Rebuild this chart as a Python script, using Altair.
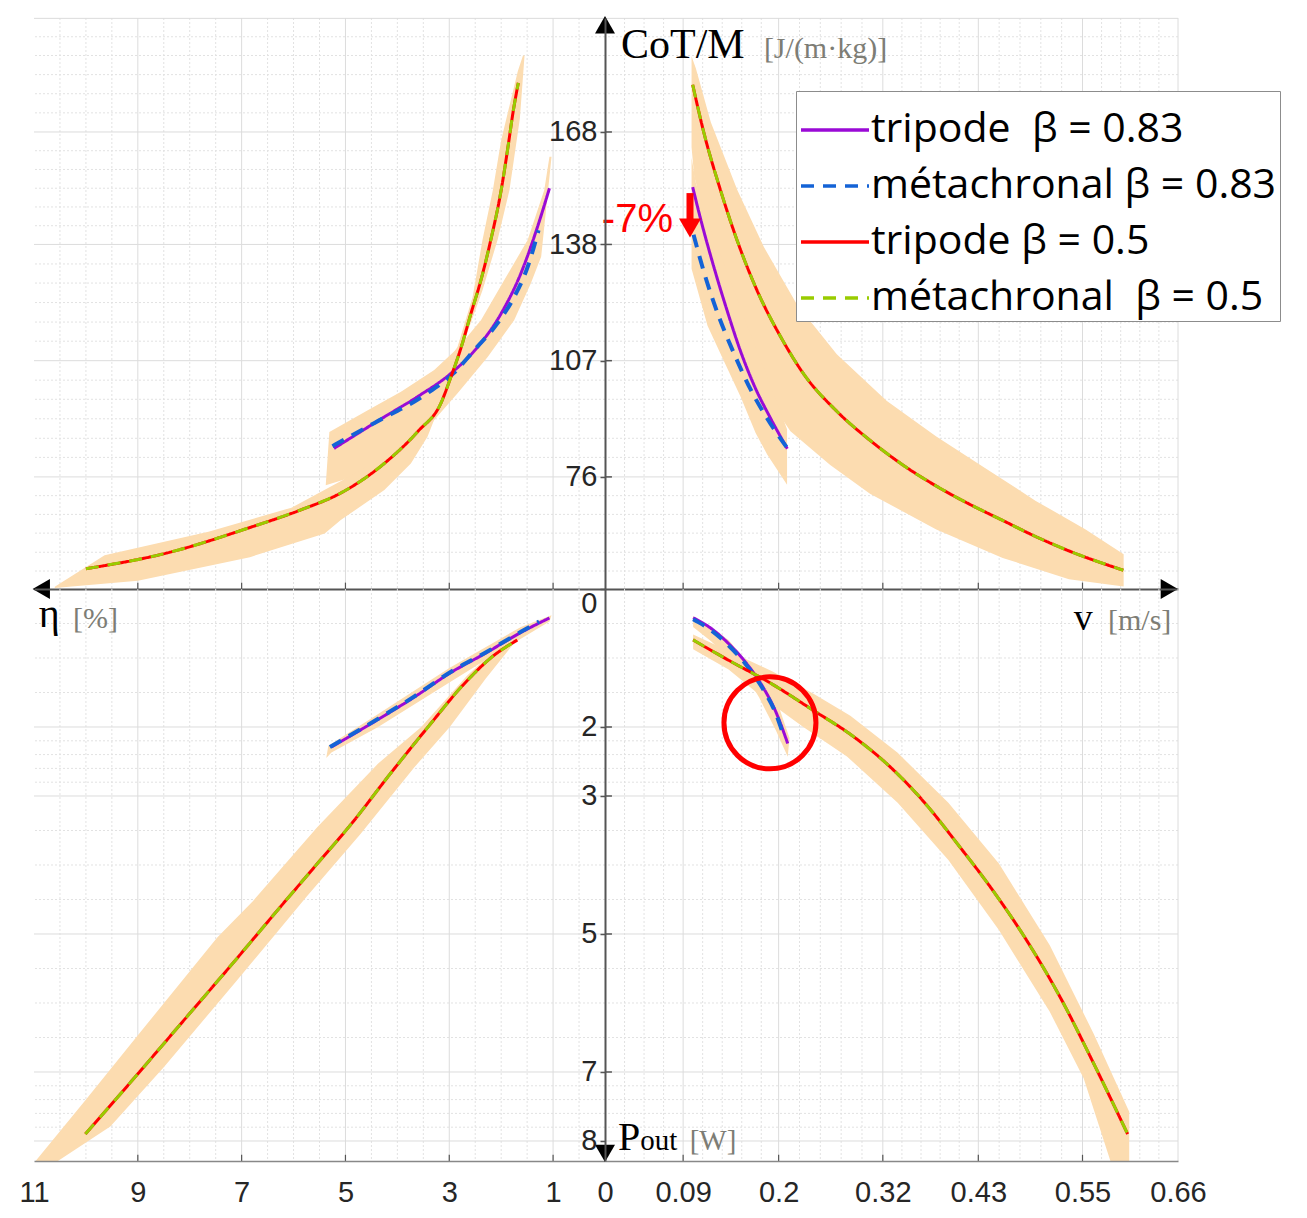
import altair as alt
import pandas as pd

# ---------------- series, colours ----------------
SERIES = ["tripode\u00a0\u00a0β = 0.83", "métachronal β = 0.83",
          "tripode β = 0.5", "métachronal\u00a0\u00a0β = 0.5"]
COLORS = ["#9a0ad6", "#1463d6", "#ff0000", "#99cc00"]
DASHES = [[1, 0], [13, 9], [1, 0], [13, 9]]
BAND = "#fcdcb0"

# ---------------- top-left: eta [%] vs CoT/M ----------------
TL_ETA_T083 = [5.22, 4.25, 3.61, 2.97, 2.45, 2.00, 1.62, 1.30, 1.07]
TL_COT_T083 = [83.6, 92.0, 97.4, 103.6, 110.7, 119.6, 130.3, 142.7, 153.0]
TL_ETA_M083 = [5.25, 4.44, 3.48, 2.92, 2.52, 2.07, 1.75, 1.49, 1.28]
TL_COT_M083 = [84.2, 90.4, 97.8, 103.6, 109.8, 117.0, 124.0, 132.0, 141.8]
TL_ETA_05 = [10.0, 8.44, 6.84, 5.86, 5.09, 4.26, 3.60, 3.16, 2.97, 2.77, 2.58, 2.39, 2.20, 2.00, 1.85, 1.78, 1.67]
TL_COT_05 = [51.5, 55.7, 62.5, 67.2, 71.7, 79.5, 88.2, 95.7, 102.6, 110.6, 119.7, 128.5, 139.2, 152.5, 165.8, 172.5, 181.1]
TL_BAND05_ETA = [10.60, 9.64, 7.64, 6.04, 5.05, 3.60, 2.84, 2.55, 2.36, 2.16, 2.00, 1.68, 1.58, 1.55, 1.64, 1.84,
                 2.07, 2.36, 2.90, 3.42, 3.74, 4.25, 5.09, 5.40, 6.84, 9.00, 10.60]
TL_BAND05_COT = [46.7, 55.1, 61.4, 67.8, 75.2, 95.0, 110.7, 124.0, 139.2, 152.5, 165.8, 184.2, 188.4, 188.4, 171.6, 152.5,
                 139.2, 125.8, 105.0, 86.7, 79.6, 72.5, 64.5, 60.9, 54.6, 48.3, 46.4]
TL_BAND083_ETA = [5.31, 4.57, 3.93, 3.29, 2.84, 2.39, 1.94, 1.49, 1.17, 1.07, 1.03, 1.17, 1.23, 1.43, 1.75, 2.26,
                  2.84, 3.29, 3.55, 5.05, 5.38]
TL_BAND083_COT = [88.0, 93.8, 98.7, 104.5, 110.3, 117.8, 128.5, 139.2, 152.5, 161.4, 161.4, 142.7, 134.7, 127.6, 117.8, 108.0,
                  98.3, 91.2, 86.7, 75.2, 73.8]

# ---------------- top-right: v [m/s] vs CoT/M ----------------
TR_V_T083 = [0.101, 0.110, 0.126, 0.141, 0.156, 0.172, 0.191, 0.210]
TR_COT_T083 = [153.3, 144.9, 131.5, 120.1, 109.6, 100.3, 91.5, 83.5]
TR_V_M083 = [0.102, 0.114, 0.129, 0.149, 0.168, 0.187, 0.209]
TR_COT_M083 = [140.6, 130.6, 120.1, 108.7, 99.2, 91.5, 84.0]
TR_V_05 = [0.101, 0.114, 0.133, 0.152, 0.175, 0.202, 0.229, 0.267, 0.305, 0.343, 0.382, 0.420, 0.458, 0.496, 0.534, 0.597]
TR_COT_05 = [180.6, 167.7, 152.5, 139.2, 125.8, 113.5, 103.4, 93.5, 85.8, 79.2, 73.5, 68.7, 64.4, 60.1, 56.3, 51.1]
TR_BAND05_V = [0.0997, 0.1047, 0.1219, 0.1524, 0.1830, 0.2211, 0.2670, 0.3243, 0.3816, 0.4390, 0.4962, 0.5536, 0.5974,
               0.5974, 0.5344, 0.4581, 0.3816, 0.3052, 0.2594, 0.2136, 0.1868, 0.1601, 0.1372, 0.1181, 0.1027, 0.0997]
TR_BAND05_COT = [188.2, 184.9, 170.6, 152.5, 137.3, 122.0, 108.7, 96.3, 86.8, 78.2, 69.6, 62.0, 55.4,
                 46.8, 48.7, 54.4, 62.0, 71.5, 79.2, 88.2, 97.3, 110.6, 125.8, 142.0, 156.3, 163.9]
TR_BAND083_V = [0.0997, 0.1047, 0.1219, 0.1448, 0.1677, 0.1906, 0.2097, 0.2097, 0.1868, 0.1735, 0.1563, 0.1372, 0.1181, 0.0997]
TR_BAND083_COT = [161.1, 154.4, 142.0, 128.0, 114.0, 100.5, 88.7, 73.9, 82.0, 87.7, 97.3, 106.8, 116.3, 131.5]

# ---------------- bottom-left: eta [%] vs Pout [W] ----------------
BL_ETA_T083 = [5.27, 4.37, 3.68, 2.99, 2.30, 1.62, 1.07]
BL_POUT_T083 = [2.29, 1.89, 1.57, 1.22, 0.93, 0.63, 0.42]
BL_ETA_M083 = [5.30, 4.37, 3.68, 2.99, 2.30, 1.62, 1.27]
BL_POUT_M083 = [2.29, 1.88, 1.56, 1.21, 0.92, 0.62, 0.47]
BL_ETA_05 = [10.01, 8.98, 8.09, 7.12, 6.37, 5.61, 4.85, 4.16, 3.41, 2.72, 2.17, 1.69]
BL_POUT_05 = [7.90, 7.01, 6.23, 5.38, 4.71, 4.04, 3.37, 2.70, 2.00, 1.38, 0.98, 0.74]
BL_BAND05_ETA = [10.98, 10.01, 8.98, 7.47, 6.78, 5.54, 4.37, 3.54, 2.65, 1.69, 1.62, 2.30, 2.99, 3.68, 4.71, 5.75,
                 7.12, 8.50, 9.53, 10.56]
BL_BAND05_POUT = [8.30, 7.41, 6.45, 5.05, 4.52, 3.45, 2.53, 2.00, 1.25, 0.60, 0.66, 1.30, 2.00, 2.59, 3.55, 4.46,
                  5.70, 6.93, 7.79, 8.30]
BL_BAND083_ETA = [5.37, 5.33, 4.37, 2.99, 1.62, 1.03, 1.07, 2.30, 2.99, 4.37, 5.27]
BL_BAND083_POUT = [2.45, 2.27, 1.81, 1.14, 0.55, 0.38, 0.47, 1.03, 1.35, 2.00, 2.37]

# ---------------- bottom-right: v [m/s] vs Pout [W] ----------------
BR_V_T083 = [0.1015, 0.1229, 0.1424, 0.1618, 0.1813, 0.1969, 0.2105]
BR_POUT_T083 = [0.417, 0.577, 0.792, 1.06, 1.408, 1.784, 2.24]
BR_V_M083 = [0.1015, 0.1229, 0.1424, 0.1618, 0.1813, 0.1969, 0.2066]
BR_POUT_M083 = [0.44, 0.604, 0.819, 1.087, 1.435, 1.81, 2.16]
BR_V_05 = [0.1015, 0.1424, 0.193, 0.2397, 0.2826, 0.3293, 0.3682, 0.4072, 0.4461, 0.4851, 0.524, 0.563, 0.602]
BR_POUT_05 = [0.738, 1.033, 1.382, 1.757, 2.106, 2.588, 3.098, 3.714, 4.358, 5.081, 5.91, 6.88, 7.90]
BR_BAND05_V = [0.1015, 0.1424, 0.193, 0.2397, 0.2826, 0.3371, 0.3955, 0.4539, 0.5123, 0.563, 0.6038, 0.6038,
               0.5824, 0.5513, 0.5123, 0.4539, 0.3955, 0.3371, 0.2787, 0.228, 0.1813, 0.1424, 0.1015]
BR_BAND05_POUT = [0.658, 0.899, 1.194, 1.516, 1.838, 2.374, 3.098, 3.982, 5.162, 6.449, 7.575, 8.30,
                  8.30, 7.092, 6.127, 4.947, 3.929, 3.098, 2.427, 1.998, 1.57, 1.167, 0.872]
BR_BAND083_V = [0.1015, 0.1424, 0.1813, 0.2008, 0.2125, 0.2105, 0.1969, 0.1774, 0.1618, 0.1229, 0.1015]
BR_BAND083_POUT = [0.39, 0.738, 1.328, 1.73, 2.16, 2.43, 2.05, 1.57, 1.248, 0.765, 0.55]

# ---------------- ticks and grid ----------------
ETA_TICKS = [11, 9, 7, 5, 3, 1]
V_TICKS = [0, 0.09, 0.2, 0.32, 0.43, 0.55, 0.66]
COT_TICKS = [76, 107, 138, 168]
POUT_TICKS = [0, 2, 3, 5, 7, 8]
ETA_GRID_MAJOR = [9, 7, 5, 3, 1]
ETA_GRID_MINOR = [10.5, 10, 9.5, 8.5, 8, 7.5, 6.5, 6, 5.5, 4.5, 4, 3.5, 2.5, 2, 1.5, 0.5]
V_GRID_MAJOR = [0.09, 0.2, 0.32, 0.43, 0.55, 0.66]
V_GRID_MINOR = [0.0225, 0.045, 0.0675, 0.1125, 0.135, 0.1575, 0.18, 0.224, 0.248, 0.272, 0.296, 0.342, 0.364,
                0.386, 0.408, 0.454, 0.478, 0.502, 0.526, 0.572, 0.594, 0.616, 0.638]
COT_GRID_MAJOR = [76, 107, 138, 168, 198.3]
COT_GRID_MINOR = [50.9, 55.9, 61.0, 66.0, 71.0, 81.2, 86.3, 91.5, 96.7, 101.8, 112.2, 117.3, 122.5, 127.7, 132.8,
                  143.0, 148.0, 153.0, 158.0, 163.0, 173.1, 178.2, 183.3, 188.4, 193.4]
POUT_GRID_MAJOR = [2, 3, 5, 7, 8]
POUT_GRID_MINOR = [0.5, 1, 1.5, 2.2, 2.4, 2.6, 2.8, 3.5, 4, 4.5, 5.5, 6, 6.5, 7.2, 7.4, 7.6, 7.8]

ETA_DOMAIN = [0, 11]
V_DOMAIN = [0, 0.66]
COT_DOMAIN = [46.1, 198.4]
POUT_DOMAIN = [0, 8.29]

W_L, W_R, H_T, H_B = 571, 573, 571, 572
SANS = "Liberation Sans"
SERIF = "Liberation Serif"
AXC = "#555555"
LABEL_SIZE = 29

LEG = alt.Legend(title=None, orient="none", legendX=762, legendY=73, direction="vertical",
                 symbolType="stroke", symbolSize=4624, symbolStrokeWidth=3.5,
                 labelFont="Open Sans", labelFontSize=41, labelColor="black", labelLimit=800,
                 rowPadding=-1, labelOffset=0, padding=3, strokeColor="#8c8c8c", fillColor="white")
COLOR = alt.Color("series:N", scale=alt.Scale(domain=SERIES, range=COLORS), legend=LEG)
DASH = alt.StrokeDash("series:N", scale=alt.Scale(domain=SERIES, range=DASHES), legend=LEG)


def xy(xs, ys):
    d = pd.DataFrame({"x": xs, "y": ys})
    d["i"] = range(len(d))
    return d


def enc_x(domain, reverse, axis):
    return alt.X("x:Q", scale=alt.Scale(domain=domain, reverse=reverse, nice=False, zero=False), axis=axis, title=None)


def enc_y(domain, reverse, axis):
    return alt.Y("y:Q", scale=alt.Scale(domain=domain, reverse=reverse, nice=False, zero=False), axis=axis, title=None)


def line_layer(xs, ys, k, X, Y, width):
    d = xy(xs, ys)
    d["series"] = SERIES[k]
    return alt.Chart(d).mark_line(strokeWidth=width, clip=True, interpolate="monotone").encode(
        x=X, y=Y, order=alt.Order("i:Q"), color=COLOR, strokeDash=DASH)


def band_layer(xs, ys, X, Y):
    return alt.Chart(xy(xs, ys)).mark_line(filled=True, color=BAND, opacity=1, strokeWidth=0, clip=True).encode(
        x=X, y=Y, order=alt.Order("i:Q"))


def grid_layers(xmaj, xmin, ymaj, ymin, X, Y):
    out = []
    out.append(alt.Chart(pd.DataFrame({"x": xmin})).mark_rule(color="#e2e2e2", strokeWidth=1, strokeDash=[2, 2]).encode(x=X))
    out.append(alt.Chart(pd.DataFrame({"y": ymin})).mark_rule(color="#e2e2e2", strokeWidth=1, strokeDash=[2, 2]).encode(y=Y))
    out.append(alt.Chart(pd.DataFrame({"x": xmaj})).mark_rule(color="#dcdcdc", strokeWidth=1).encode(x=X))
    out.append(alt.Chart(pd.DataFrame({"y": ymaj})).mark_rule(color="#dcdcdc", strokeWidth=1).encode(y=Y))
    return out


def xaxis_plain():
    return alt.Axis(labels=False, ticks=False, grid=False, domainColor=AXC, domainWidth=2, zindex=1)


def xaxis_labels(values, fmt):
    return alt.Axis(values=values, format=fmt, ticks=False, grid=False, labelFlush=False,
                    labelFont=SANS, labelFontSize=LABEL_SIZE, labelColor="#262626", labelPadding=17,
                    domainColor="#888888", domainWidth=1.5, zindex=1)


def yaxis_labels(values, flush):
    return alt.Axis(values=values, format="d", orient="left", grid=False, ticks=True, tickSize=5,
                    tickColor=AXC, tickWidth=1.5, labelFont=SANS, labelFontSize=LABEL_SIZE, labelColor="#262626",
                    labelPadding=3, labelFlush=flush, domainColor=AXC, domainWidth=2, zindex=1)


def point(xs, ys, shape, size, color, filled=True, sw=0):
    d = pd.DataFrame({"x": xs, "y": ys})
    if filled:
        return alt.Chart(d).mark_point(shape=shape, size=size, filled=True, color=color, opacity=1)
    return alt.Chart(d).mark_point(shape=shape, size=size, filled=False, color=color, strokeWidth=sw, opacity=1)


def text(xs, ys, txt, size, font, color, align="left"):
    d = pd.DataFrame({"x": xs, "y": ys, "t": txt})
    return alt.Chart(d).mark_text(align=align, baseline="alphabetic", font=font, fontSize=size, color=color).encode(
        text="t:N")


def inner_ticks_x(vals, y0, y1, X, Y):
    d = pd.DataFrame({"x": vals, "y": [y0] * len(vals), "y2": [y1] * len(vals)})
    return alt.Chart(d).mark_rule(color=AXC, strokeWidth=1.2).encode(x=X, y=Y, y2="y2:Q")


def inner_ticks_y(vals, x0, x1, X, Y):
    d = pd.DataFrame({"y": vals, "x": [x0] * len(vals), "x2": [x1] * len(vals)})
    return alt.Chart(d).mark_rule(color=AXC, strokeWidth=1.5).encode(x=X, x2="x2:Q", y=Y)


# ================= top-left =================
X = enc_x(ETA_DOMAIN, True, xaxis_plain())
Y = enc_y(COT_DOMAIN, False, None)
tl_layers = grid_layers(ETA_GRID_MAJOR, ETA_GRID_MINOR, COT_GRID_MAJOR, COT_GRID_MINOR, X, Y) + [
    band_layer(TL_BAND05_ETA, TL_BAND05_COT, X, Y),
    band_layer(TL_BAND083_ETA, TL_BAND083_COT, X, Y),
    line_layer(TL_ETA_T083, TL_COT_T083, 0, X, Y, 3),
    line_layer(TL_ETA_M083, TL_COT_M083, 1, X, Y, 4),
    line_layer(TL_ETA_05, TL_COT_05, 2, X, Y, 3),
    line_layer(TL_ETA_05, TL_COT_05, 3, X, Y, 3),
    inner_ticks_x(ETA_GRID_MAJOR, 46.1, 47.8, X, Y),
    point([10.86], [46.1], "triangle-left", 400, "black").encode(x=X, y=Y),
]
TL = alt.layer(*tl_layers).properties(width=W_L, height=H_T)

# ================= top-right =================
X = enc_x(V_DOMAIN, False, xaxis_plain())
Y = enc_y(COT_DOMAIN, False, yaxis_labels(COT_TICKS, False))
tr_layers = grid_layers(V_GRID_MAJOR, V_GRID_MINOR, COT_GRID_MAJOR, COT_GRID_MINOR, X, Y) + [
    band_layer(TR_BAND05_V, TR_BAND05_COT, X, Y),
    band_layer(TR_BAND083_V, TR_BAND083_COT, X, Y),
    line_layer(TR_V_T083, TR_COT_T083, 0, X, Y, 3),
    line_layer(TR_V_M083, TR_COT_M083, 1, X, Y, 4),
    line_layer(TR_V_05, TR_COT_05, 2, X, Y, 3),
    line_layer(TR_V_05, TR_COT_05, 3, X, Y, 3),
    inner_ticks_x(V_GRID_MAJOR[:-1], 46.1, 47.8, X, Y),
    inner_ticks_y(COT_TICKS, 0, 0.008, X, Y),
    point([0.0], [196.6], "triangle-up", 400, "black").encode(x=X, y=Y),
    point([0.650], [46.1], "triangle-right", 400, "black").encode(x=X, y=Y),
    text([0.0184], [187.7], ["CoT/M"], 42, SERIF, "black").encode(x=X, y=Y),
    text([0.183], [187.7], ["[J/(m·kg)]"], 30, SERIF, "#7d7d75").encode(x=X, y=Y),
    text([0.0783], [141.3], ["-7%"], 40, SANS, "#ff0000", align="right").encode(x=X, y=Y),
]
shaft = pd.DataFrame({"x": [0.0979], "y": [151.7], "y2": [144.5]})
tr_layers.append(alt.Chart(shaft).mark_rule(color="#ff0000", strokeWidth=7).encode(x=X, y=Y, y2="y2:Q"))
tr_layers.append(point([0.0979], [142.4], "triangle-down", 484, "#ff0000").encode(x=X, y=Y))
TR = alt.layer(*tr_layers).properties(width=W_R, height=H_T)

# ================= bottom-left =================
X = enc_x(ETA_DOMAIN, True, xaxis_labels(ETA_TICKS, "d"))
Y = enc_y(POUT_DOMAIN, True, None)
bl_layers = grid_layers(ETA_GRID_MAJOR, ETA_GRID_MINOR, POUT_GRID_MAJOR, POUT_GRID_MINOR, X, Y) + [
    band_layer(BL_BAND05_ETA, BL_BAND05_POUT, X, Y),
    band_layer(BL_BAND083_ETA, BL_BAND083_POUT, X, Y),
    line_layer(BL_ETA_T083, BL_POUT_T083, 0, X, Y, 3),
    line_layer(BL_ETA_M083, BL_POUT_M083, 1, X, Y, 4),
    line_layer(BL_ETA_05, BL_POUT_05, 2, X, Y, 3),
    line_layer(BL_ETA_05, BL_POUT_05, 3, X, Y, 3),
    inner_ticks_x(ETA_GRID_MAJOR, 8.29, 8.2, X, Y),
    text([10.91], [0.55], ["η"], 40, SERIF, "black").encode(x=X, y=Y),
    text([10.25], [0.57], ["[%]"], 30, SERIF, "#7d7d75").encode(x=X, y=Y),
]
BL = alt.layer(*bl_layers).properties(width=W_L, height=H_B)

# ================= bottom-right =================
X = enc_x(V_DOMAIN, False, xaxis_labels(V_TICKS, ".2~f"))
Y = enc_y(POUT_DOMAIN, True, yaxis_labels(POUT_TICKS, True))
br_layers = grid_layers(V_GRID_MAJOR, V_GRID_MINOR, POUT_GRID_MAJOR, POUT_GRID_MINOR, X, Y) + [
    band_layer(BR_BAND05_V, BR_BAND05_POUT, X, Y),
    band_layer(BR_BAND083_V, BR_BAND083_POUT, X, Y),
    line_layer(BR_V_T083, BR_POUT_T083, 0, X, Y, 3),
    line_layer(BR_V_M083, BR_POUT_M083, 1, X, Y, 4),
    line_layer(BR_V_05, BR_POUT_05, 2, X, Y, 3),
    line_layer(BR_V_05, BR_POUT_05, 3, X, Y, 3),
    inner_ticks_x(V_GRID_MAJOR[:-1], 8.29, 8.2, X, Y),
    inner_ticks_y([2, 3, 5, 7], 0, 0.008, X, Y),
    point([0.0], [8.18], "triangle-down", 400, "black").encode(x=X, y=Y),
    point([0.190], [1.94], "circle", 8464, "#ff0000", filled=False, sw=5).encode(x=X, y=Y),
    text([0.540], [0.594], ["v"], 38, SERIF, "black").encode(x=X, y=Y),
    text([0.5794], [0.594], ["[m/s]"], 30, SERIF, "#7d7d75").encode(x=X, y=Y),
    text([0.015], [8.13], ["P"], 40, SERIF, "black").encode(x=X, y=Y),
    text([0.0405], [8.13], ["out"], 29, SERIF, "black").encode(x=X, y=Y),
    text([0.0975], [8.13], ["[W]"], 29, SERIF, "#7d7d75").encode(x=X, y=Y),
]
BR = alt.layer(*br_layers).properties(width=W_R, height=H_B)

chart = alt.concat(TL, TR, BL, BR, columns=2, spacing=0, bounds="flush").properties(
    padding={"left": 10, "top": 8, "right": 5, "bottom": 5}
).configure_view(strokeWidth=0)

chart.save("out.html", embed_options={"renderer": "svg", "actions": False})
